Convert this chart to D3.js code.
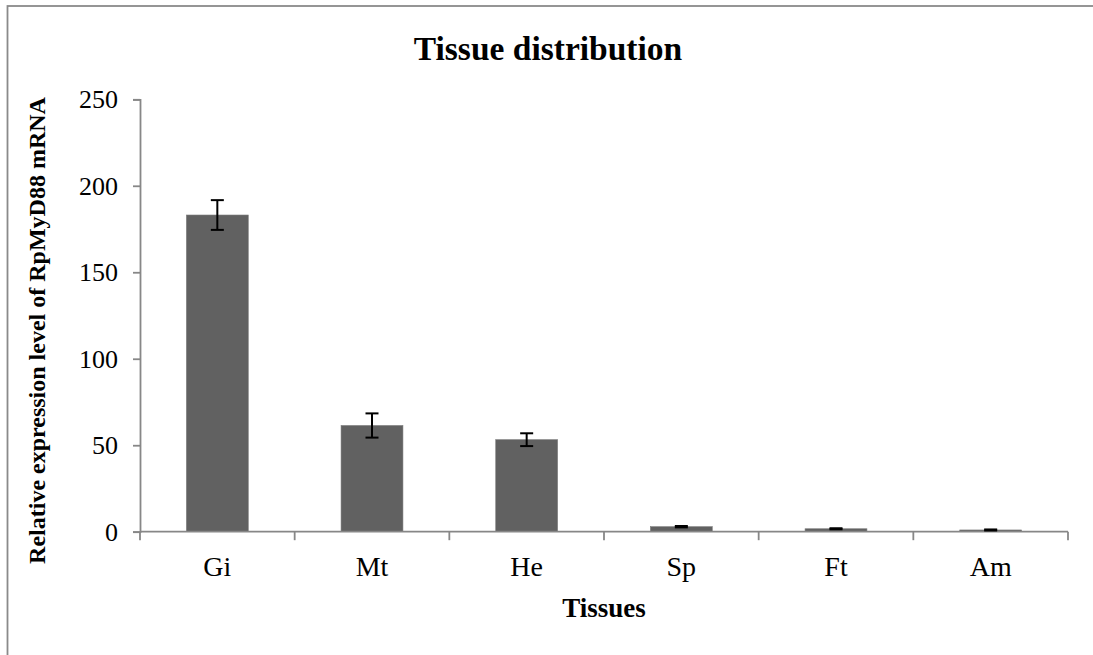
<!DOCTYPE html>
<html>
<head>
<meta charset="utf-8">
<script src="https://cdn.jsdelivr.net/npm/d3@7"></script>
<style>
  html, body { margin: 0; padding: 0; background: #fff; }
  svg { display: block; }
  text { font-family: "Liberation Serif", "Times New Roman", serif; fill: #000; }
</style>
</head>
<body>
<svg id="chart" width="1093" height="655"></svg>
<script>
// Relative expression of RpMyD88 mRNA by tissue (mean ± error)
const tissues = ["Gi", "Mt", "He", "Sp", "Ft", "Am"];
const expression = [183.1, 61.4, 53.2, 2.9, 1.7, 1.0];
const errors = [8.6, 7.0, 3.7, 0.4, 0.3, 0.3];
const yTicks = [0, 50, 100, 150, 200, 250];

const svg = d3.select("#chart");
const W = 1093, H = 655;
const plot = { left: 140, right: 1068, top: 99.3, bottom: 531.7 };

// chart frame (open at the right and bottom edges)
svg.append("rect")
  .attr("x", 7.5).attr("y", 6)
  .attr("width", W + 40).attr("height", H + 40)
  .attr("fill", "none")
  .attr("stroke", "#8a8a8a")
  .attr("stroke-width", 1.8);

const x = d3.scaleBand()
  .domain(tissues)
  .range([plot.left, plot.right])
  .paddingInner(0.6)
  .paddingOuter(0.3);

const y = d3.scaleLinear()
  .domain([0, 250])
  .range([plot.bottom, plot.top]);

// bars
svg.append("g").selectAll("rect")
  .data(tissues)
  .join("rect")
  .attr("x", d => x(d))
  .attr("width", x.bandwidth())
  .attr("y", (d, i) => y(expression[i]))
  .attr("height", (d, i) => y(0) - y(expression[i]))
  .attr("fill", "#616161")
  .attr("stroke", "#7a7a7a")
  .attr("stroke-width", 0.6);

// y axis
const yAxis = svg.append("g")
  .attr("transform", `translate(${plot.left},0)`)
  .call(d3.axisLeft(y).tickValues(yTicks).tickSize(7).tickPadding(15).tickFormat(d3.format("d")));
yAxis.select(".domain").attr("stroke", "#878787").attr("stroke-width", 1.8);
yAxis.selectAll(".tick line").attr("stroke", "#878787").attr("stroke-width", 1.8);
yAxis.selectAll(".tick text")
  .attr("font-size", 26)
  .attr("font-family", "Liberation Serif, Times New Roman, serif")
  .attr("fill", "#000");

// x axis: ticks sit on the category boundaries
const step = x.step();
const bounds = d3.range(tissues.length + 1).map(i => plot.left + i * (plot.right - plot.left) / tissues.length);
const xg = svg.append("g");
xg.append("line")
  .attr("x1", plot.left).attr("x2", plot.right)
  .attr("y1", y(0)).attr("y2", y(0))
  .attr("stroke", "#878787").attr("stroke-width", 1.8);
xg.selectAll("line.tk")
  .data(bounds)
  .join("line")
  .attr("class", "tk")
  .attr("x1", d => d).attr("x2", d => d)
  .attr("y1", y(0)).attr("y2", y(0) + 8.5)
  .attr("stroke", "#878787").attr("stroke-width", 1.8);
xg.selectAll("text")
  .data(tissues)
  .join("text")
  .attr("x", d => x(d) + x.bandwidth() / 2)
  .attr("y", 576)
  .attr("text-anchor", "middle")
  .attr("font-size", 28)
  .text(d => d);

// error bars
const capHalf = 6.5;
const eb = svg.append("g").attr("stroke", "#000").attr("stroke-width", 2);
tissues.forEach((t, i) => {
  const cx = x(t) + x.bandwidth() / 2;
  const hi = y(expression[i] + errors[i]);
  const lo = y(expression[i] - errors[i]);
  eb.append("line").attr("x1", cx).attr("x2", cx).attr("y1", hi).attr("y2", lo);
  eb.append("line").attr("x1", cx - capHalf).attr("x2", cx + capHalf).attr("y1", hi).attr("y2", hi);
  eb.append("line").attr("x1", cx - capHalf).attr("x2", cx + capHalf).attr("y1", lo).attr("y2", lo);
});

// titles
svg.append("text")
  .attr("x", 548).attr("y", 60)
  .attr("text-anchor", "middle")
  .attr("font-size", 33.5)
  .attr("font-weight", "bold")
  .text("Tissue distribution");

svg.append("text")
  .attr("x", (plot.left + plot.right) / 2).attr("y", 617)
  .attr("text-anchor", "middle")
  .attr("font-size", 27)
  .attr("font-weight", "bold")
  .text("Tissues");

svg.append("text")
  .attr("transform", "translate(45,330.5) rotate(-90)")
  .attr("text-anchor", "middle")
  .attr("font-size", 24)
  .attr("font-weight", "bold")
  .text("Relative expression level of RpMyD88 mRNA");
</script>
</body>
</html>
